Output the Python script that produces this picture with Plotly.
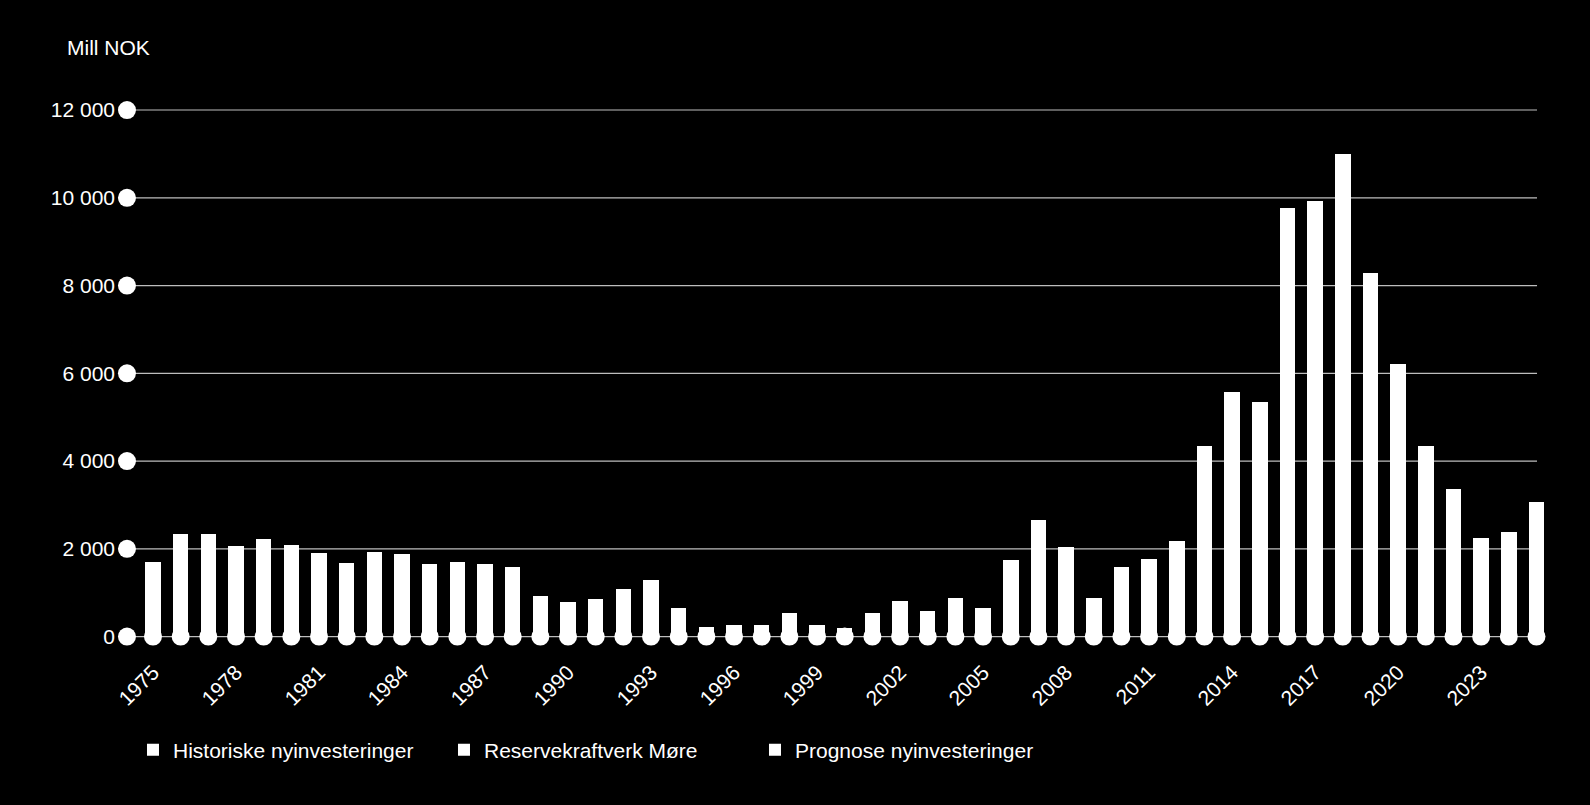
import plotly.graph_objects as go

years = list(range(1975, 2026))
historiske = [1708, 2339, 2339, 2059, 2226, 2082, 1913, 1686, 1923, 1884,
              1649, 1695, 1649, 1588, 934, 790, 852, 1093, 1285, 647,
              210, 260, 260, 540, 267, 191, 547, 820, 592, 882,
              647, 1754, 1751, 1343, 882, 1588, 1763, 2173, 4351, 5567,
              5346, None, None, None, None, None, None, None, None, None, None]
reservekraft = [None] * 32 + [900, 700] + [None] * 17
prognose = [None] * 41 + [9765, 9932, 11002, 8278, 6219, 4351, 3358, 2255, 2392, 3062]

y_ticks = [0, 2000, 4000, 6000, 8000, 10000, 12000]
y_labels = ["0", "2 000", "4 000", "6 000", "8 000", "10 000", "12 000"]
x_ticks = list(range(1975, 2024, 3))
x_labels = [str(v) for v in x_ticks]

FONT = "Liberation Sans, Arial, sans-serif"
WHITE = "#ffffff"
GRID = "#bdbdbd"
AXIS_X = 1974.06
GRID_END = 2025.02

fig = go.Figure()
for name, vals in [("Historiske nyinvesteringer", historiske),
                   ("Reservekraftverk Møre", reservekraft),
                   ("Prognose nyinvesteringer", prognose)]:
    fig.add_trace(go.Bar(x=years, y=vals, name=name, width=0.56,
                         marker=dict(color=WHITE, line=dict(width=0)),
                         hoverinfo="x+y+name"))

# dots at the base of each bar
fig.add_trace(go.Scatter(x=years, y=[0] * len(years), mode="markers",
                         marker=dict(color=WHITE, size=18, line=dict(width=0)),
                         showlegend=False, cliponaxis=False, hoverinfo="skip"))
# dots on the value axis
fig.add_trace(go.Scatter(x=[AXIS_X] * len(y_ticks), y=y_ticks, mode="markers",
                         marker=dict(color=WHITE, size=18, line=dict(width=0)),
                         showlegend=False, cliponaxis=False, hoverinfo="skip"))

shapes = [dict(type="line", xref="x", yref="y", x0=AXIS_X, x1=GRID_END, y0=v, y1=v,
               line=dict(color=GRID, width=1.2), layer="below") for v in y_ticks]

fig.update_layout(
    width=1590, height=805,
    paper_bgcolor="#000000", plot_bgcolor="#000000",
    margin=dict(l=100, r=30, t=60, b=150),
    barmode="stack",
    bargap=0,
    font=dict(family=FONT, size=21, color=WHITE),
    shapes=shapes,
    xaxis=dict(range=[1973.085, 2025.85], tickvals=x_ticks, ticktext=x_labels,
               tickangle=-45, showgrid=False, zeroline=False, showline=False,
               ticks="", tickfont=dict(size=21, color=WHITE, family=FONT)),
    yaxis=dict(range=[-420, 13140], tickvals=y_ticks, ticktext=y_labels,
               showgrid=False, zeroline=False, showline=False, ticks="",
               anchor="free", position=0.0103,
               tickfont=dict(size=21, color=WHITE, family=FONT)),
    legend=dict(orientation="h", x=0.0226, y=-0.16, xanchor="left", yanchor="middle",
                font=dict(size=21, color=WHITE, family=FONT),
                bgcolor="rgba(0,0,0,0)", entrywidth=266, entrywidthmode="pixels",
                traceorder="normal"),
    annotations=[dict(text="Mill NOK", xref="paper", yref="paper",
                      x=-35 / 1460, y=(655 - 47) / 595, xanchor="left", yanchor="middle",
                      showarrow=False, font=dict(size=21, color=WHITE, family=FONT))],
)

fig.write_html("out.html")
